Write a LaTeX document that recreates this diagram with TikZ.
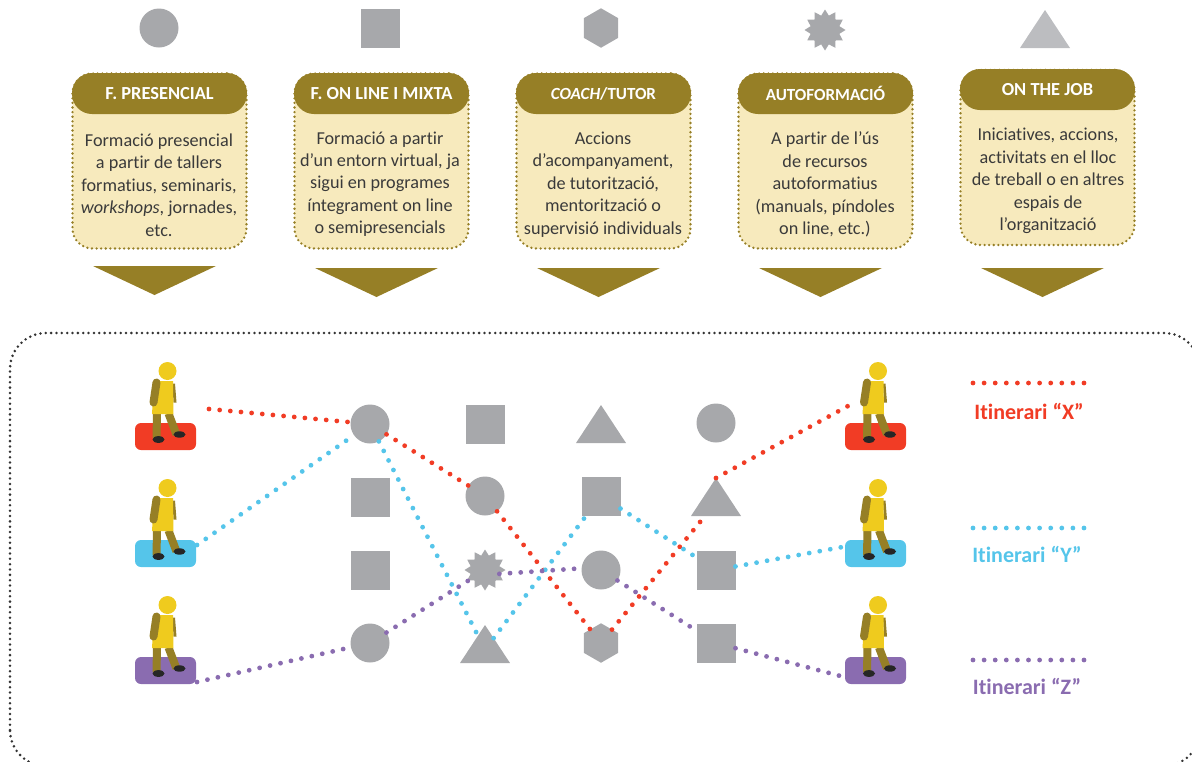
\documentclass[tikz,border=0pt]{standalone}
\usepackage{fontspec}
\setmainfont[Ligatures=NoCommon]{Carlito}
\usetikzlibrary{shapes.geometric,shapes.misc}
\definecolor{shapegrey}{HTML}{A7A8AB}
\definecolor{lightgrey}{HTML}{BCBDC0}
\definecolor{olive}{HTML}{967F26}
\definecolor{cream}{HTML}{F7EABD}
\definecolor{bodytext}{HTML}{3A3A3A}
\definecolor{redroute}{HTML}{F13C25}
\definecolor{blueroute}{HTML}{55C5EA}
\definecolor{purpleroute}{HTML}{8A6CB0}
\definecolor{personyellow}{HTML}{EFCB1E}
\definecolor{frame}{HTML}{333333}
\tikzset{
  x=1pt,y=-1pt,
  gshape/.style={fill=#1,draw=none,inner sep=0pt,outer sep=0pt},
  gshape/.default=shapegrey,
  gcircle/.style={gshape,circle,minimum size=39pt},
  gsquare/.style={gshape,rectangle,minimum size=39pt},
  ghex/.style={gshape,regular polygon,regular polygon sides=6,shape border rotate=30,minimum size=39.5pt},
  gstar/.style={gshape,star,star points=12,star point ratio=1.38,minimum size=41pt},
  gtri/.style={gshape,isosceles triangle,isosceles triangle apex angle=66.7,isosceles triangle stretches,shape border rotate=90,minimum width=50pt,minimum height=38pt,anchor=south},
  cardbox/.style={rectangle,rounded corners=20pt,fill=cream,draw=olive,line width=2.6pt,line cap=round,dash pattern=on 0pt off 4.6pt,minimum width=174pt,minimum height=175pt,inner sep=0pt},
  cardhead/.style={rectangle,rounded corners=20pt,fill=olive,text=white,font=\fontsize{18.4}{20}\selectfont\bfseries,minimum width=175pt,minimum height=41pt,inner sep=0pt},
  cardheadsmall/.style={cardhead,font=\fontsize{17}{20}\selectfont\bfseries},
  cardtext/.style={text=bodytext,font=\fontsize{18.2}{22.4}\selectfont,align=center,inner sep=0pt},
  downarrow/.style={fill=olive,draw=none},
  route/.style={draw=#1,line width=4.8pt,line cap=round,dash pattern=on 0pt off 10.7pt},
  pad/.style={rectangle,rounded corners=6pt,fill=#1,minimum width=61pt,minimum height=27pt,inner sep=0pt},
  legendtext/.style={font=\fontsize{22}{24}\selectfont\bfseries,text=#1,inner sep=0pt},
  person/.pic={
    \fill[olive] (5,-40) -- (7.5,-40) -- (9,-21) -- (6,-21) -- cycle;
    \draw[olive,line width=8pt] (-10.5,-10) -- (-11,15);
    \draw[olive,line width=8pt] (1,-10) -- (9,11);
    \fill[black!85] (-9,16) ellipse (6pt and 3.4pt);
    \fill[black!85] (12,11) ellipse (6pt and 3.2pt);
    \fill[personyellow] (-13.5,-42.5) -- (5.5,-42.5) -- (6,-9.5) -- (-15.5,-9.5) -- cycle;
    \fill[personyellow] (0,-52.5) circle (9pt);
    \draw[olive,line width=8pt,line cap=round] (-11,-41) -- (-14,-21);
  }
}
\begin{document}
\begin{tikzpicture}
\useasboundingbox (0,0) rectangle (1192,761);
% top symbols
\node[gcircle] (topa) at (159,28) {};
\node[gsquare] (topb) at (380,28) {};
\node[ghex] (topc) at (601,28) {};
\node[gstar] (topd) at (825,30) {};
\node[gtri,fill=lightgrey] (tope) at (1045,48) {};
% cards
\node[cardbox] (carda) at (159.5,161) {};
\node[cardhead] (heada) at (159.5,93.5) {F. PRESENCIAL};
\node[cardtext] (texta) at (159,185) {Formació presencial\\a partir de tallers\\formatius, seminaris,\\\textit{workshops}, jornades,\\etc.};
\fill[downarrow] (93,266) -- (216,266) -- (154.5,295) -- cycle;
\node[cardbox] (cardb) at (381.5,161) {};
\node[cardhead] (headb) at (381.5,93.5) {F. ON LINE I MIXTA};
\node[cardtext] (textb) at (380,184) {Formació a partir\\d’un entorn virtual, ja\\sigui en programes\\íntegrament on line\\o semipresencials};
\fill[downarrow] (315,268) -- (438,268) -- (376.5,297) -- cycle;
\node[cardbox] (cardc) at (603.5,161) {};
\node[cardheadsmall] (headc) at (603.5,93.5) {\textit{COACH}/TUTOR};
\node[cardtext] (textc) at (603,184.5) {Accions\\d’acompanyament,\\de tutorització,\\mentorització o\\supervisió individuals};
\fill[downarrow] (537,268) -- (660,268) -- (598.5,297) -- cycle;
\node[cardbox] (cardd) at (825.5,161) {};
\node[cardheadsmall] (headd) at (825.5,93.5) {AUTOFORMACIÓ};
\node[cardtext] (textd) at (825,184.5) {A partir de l’ús\\de recursos\\autoformatius\\(manuals, píndoles\\on line, etc.)};
\fill[downarrow] (759,268) -- (882,268) -- (820.5,297) -- cycle;
\node[cardbox] (carde) at (1047.5,157.5) {};
\node[cardhead] (heade) at (1047.5,89.5) {ON THE JOB};
\node[cardtext] (texte) at (1048,181) {Iniciatives, accions,\\activitats en el lloc\\de treball o en altres\\espais de\\l’organització};
\fill[downarrow] (981,268) -- (1104,268) -- (1042.5,297) -- cycle;
% frame
\draw[frame,line width=2.8pt,line cap=round,dash pattern=on 0pt off 5.35pt,rounded corners=36pt] (10,766) -- (10,333) -- (1200,333) -- (1200,766) -- cycle;
% grid of shapes
\node[gcircle] (aa) at (370,424) {};
\node[gsquare] (ab) at (370,497) {};
\node[gsquare] (ac) at (370,570) {};
\node[gcircle] (ad) at (370,643) {};
\node[gsquare] (ba) at (485,424) {};
\node[gcircle] (bb) at (485,496) {};
\node[gstar] (bc) at (485,570) {};
\node[gtri] (bd) at (485,663) {};
\node[gtri] (ca) at (601,443) {};
\node[gsquare] (cb) at (601,496) {};
\node[gcircle] (cc) at (601,570) {};
\node[ghex] (cd) at (601,643) {};
\node[gcircle] (da) at (716,423) {};
\node[gtri] (db) at (716,516) {};
\node[gsquare] (dc) at (716,570) {};
\node[gsquare] (dd) at (716,643) {};
% pads and people
\node[pad=redroute] (pl1) at (165.5,436.5) {};
\node[pad=blueroute] (pl2) at (165.5,553.5) {};
\node[pad=purpleroute] (pl3) at (165.5,670.5) {};
\node[pad=redroute] (pr1) at (875.5,436.5) {};
\node[pad=blueroute] (pr2) at (875.5,553.5) {};
\node[pad=purpleroute] (pr3) at (875.5,670.5) {};
\pic at (167.5,423.5) {person};
\pic at (167.5,540.5) {person};
\pic at (167.5,657.5) {person};
\pic at (878,423.5) {person};
\pic at (878,540.5) {person};
\pic at (878,657.5) {person};
% route ends
\coordinate (rs) at (209,409);
\coordinate (re) at (848,406);
\coordinate (bs) at (197,545);
\coordinate (be) at (848,546);
\coordinate (ps) at (197,682);
\coordinate (pe) at (848,678);
% routes
\draw[route=redroute] (rs) -- (aa);
\draw[route=redroute] (aa) -- (bb);
\draw[route=redroute] (bb) -- (cd);
\draw[route=redroute] (cd) -- (db);
\draw[route=redroute] (db.apex) -- (re);
\draw[route=blueroute] (bs) -- (aa);
\draw[route=blueroute] (aa) -- (bd);
\draw[route=blueroute] (bd) -- (cb);
\draw[route=blueroute] (cb) -- (dc);
\draw[route=blueroute] (dc) -- (be);
\draw[route=purpleroute] (ps) -- (ad);
\draw[route=purpleroute] (ad) -- (bc);
\draw[route=purpleroute] (bc.-15) -- (cc.175);
\draw[route=purpleroute] (cc) -- (dd);
\draw[route=purpleroute] (dd) -- (pe);
% legend
\coordinate (lx1) at (973,383); \coordinate (lx2) at (1084,383);
\coordinate (ly1) at (973,528); \coordinate (ly2) at (1084,528);
\coordinate (lz1) at (973,660); \coordinate (lz2) at (1084,660);
\draw[route=redroute,dash pattern=on 0pt off 11.1pt] (lx1) -- (lx2);
\draw[route=blueroute,dash pattern=on 0pt off 11.1pt] (ly1) -- (ly2);
\draw[route=purpleroute,dash pattern=on 0pt off 11.1pt] (lz1) -- (lz2);
\node[legendtext=redroute] (tx) at (1029,411) {Itinerari “X”};
\node[legendtext=blueroute] (ty) at (1027,554) {Itinerari “Y”};
\node[legendtext=purpleroute] (tz) at (1027,686) {Itinerari “Z”};
\end{tikzpicture}
\end{document}
